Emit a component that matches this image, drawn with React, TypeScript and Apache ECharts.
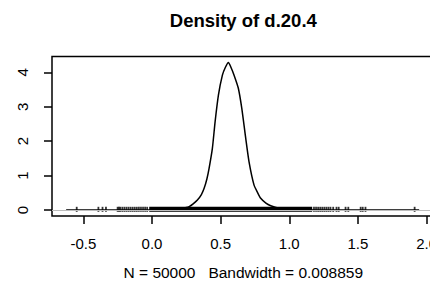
import React, { useEffect, useRef } from "react";
import * as echarts from "echarts";

// Density curve (x, density)
const densityX = [-0.625, -0.3, 0.0, 0.1, 0.198, 0.25, 0.271, 0.3, 0.331, 0.36, 0.38, 0.4, 0.416, 0.44, 0.46, 0.484, 0.513, 0.535, 0.557, 0.575, 0.598, 0.629, 0.654, 0.683, 0.707, 0.743, 0.77, 0.792, 0.83, 0.865, 0.924, 1.0, 1.2, 1.5, 1.946];
const densityY = [0, 0.0005, 0.001, 0.005, 0.03, 0.07, 0.1, 0.18, 0.29, 0.45, 0.63, 0.9, 1.21, 1.79, 2.57, 3.34, 3.92, 4.15, 4.29, 4.15, 3.92, 3.54, 2.96, 2.08, 1.4, 0.73, 0.5, 0.34, 0.2, 0.125, 0.05, 0.015, 0.002, 0.0005, 0];

// Rug marks (isolated observations) and the dense rug band
const rugX = [-0.548, -0.39, -0.36, -0.335, -0.25, -0.24, -0.23, -0.215, -0.2, -0.185, -0.17, -0.155, -0.14, -0.125, -0.11, -0.095, -0.08, -0.065, -0.05, -0.035, 1.18, 1.195, 1.21, 1.225, 1.24, 1.255, 1.27, 1.285, 1.3, 1.32, 1.344, 1.36, 1.41, 1.43, 1.52, 1.535, 1.555, 1.913];
const rugBandX = [-0.02, 1.167];
const rugLevel = 0.02;

const xTicks = [-0.5, 0, 0.5, 1, 1.5, 2];
const yTicks = [0, 1, 2, 3, 4];

const titleText = "Density of d.20.4";
const subText = "N = 50000   Bandwidth = 0.008859";

const FONT = "Liberation Sans, Arial, Helvetica, sans-serif";
const tickRich = { t: { fontSize: 15, fontFamily: FONT, color: "#000" } };

export default function App() {
  const ref = useRef<HTMLDivElement>(null);
  useEffect(() => {
    if (!ref.current) return;
    const chart = echarts.init(ref.current, null, { renderer: "svg" });
    chart.setOption({
      animation: false,
      backgroundColor: "#fff",
      textStyle: { fontFamily: FONT, fontSize: 15, color: "#000" },
      grid: {
        left: 52,
        right: 5.4,
        top: 56.5,
        bottom: 75.1,
        show: true,
        borderColor: "#000",
        borderWidth: 1.5,
        backgroundColor: "transparent",
      },
      xAxis: {
        type: "value",
        min: -0.728,
        max: 2.049,
        splitLine: { show: false },
        axisLine: { show: false, onZero: false },
        axisTick: { show: true, customValues: xTicks, length: 8, lineStyle: { color: "#000", width: 1.5 } },
        axisLabel: {
          customValues: xTicks,
          formatter: (v: number) => `{t|${v.toFixed(1)}}`,
          rich: tickRich,
          fontSize: 15,
          fontFamily: FONT,
          color: "#000",
          margin: 20,
        },
      },
      yAxis: {
        type: "value",
        min: -0.1716,
        max: 4.4616,
        splitLine: { show: false },
        axisLine: { show: false, onZero: false },
        axisTick: { show: true, customValues: yTicks, length: 8, lineStyle: { color: "#000", width: 1.5 } },
        axisLabel: {
          customValues: yTicks,
          formatter: (v: number) => `{t|${v}}`,
          rich: tickRich,
          rotate: 90,
          fontSize: 15,
          fontFamily: FONT,
          color: "#000",
          margin: 22,
        },
      },
      series: [
        {
          type: "line",
          data: rugBandX.map((x) => [x, rugLevel]),
          symbol: "none",
          lineStyle: { color: "#000", width: 5 },
          silent: true,
        },
        {
          type: "scatter",
          data: rugX.map((x) => [x, rugLevel]),
          symbol: "rect",
          symbolSize: [1.8, 5],
          itemStyle: { color: "#000" },
          silent: true,
        },
        {
          type: "line",
          data: densityX.map((x, i) => [x, densityY[i]]),
          symbol: "none",
          smooth: 0.2,
          lineStyle: { color: "#000", width: 1.5 },
          silent: true,
          markLine: {
            silent: true,
            symbol: ["none", "none"],
            label: { show: false },
            lineStyle: { color: "#bdbdbd", width: 1, type: "solid" },
            data: [{ yAxis: 0 }],
          },
        },
      ],
      graphic: [
        {
          type: "text",
          x: 243.3,
          y: 20,
          style: {
            text: titleText,
            font: `bold 18.5px ${FONT}`,
            fill: "#000",
            align: "center",
            verticalAlign: "middle",
          },
        },
        {
          type: "text",
          x: 243.3,
          y: 272,
          style: {
            text: subText,
            font: `15.5px ${FONT}`,
            fill: "#000",
            align: "center",
            verticalAlign: "middle",
          },
        },
      ],
    });
    return () => chart.dispose();
  }, []);
  return (
    <div style={{ position: "absolute", left: 0, top: 0, width: 430, height: 291, overflow: "hidden", background: "#fff" }}>
      <div ref={ref} style={{ width: 440, height: 291 }} />
    </div>
  );
}
